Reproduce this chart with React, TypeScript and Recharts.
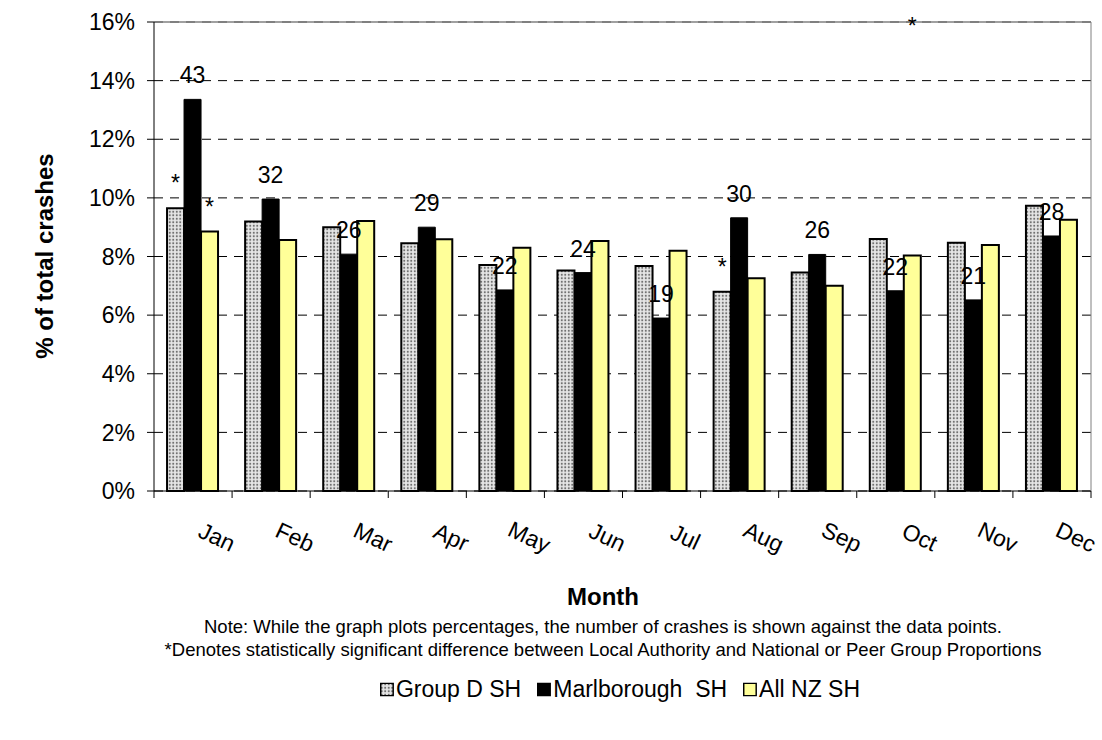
import React from "react";
import {
  BarChart,
  Bar,
  XAxis,
  YAxis,
  CartesianGrid,
  ReferenceLine,
  LabelList,
} from "recharts";

const months = ["Jan", "Feb", "Mar", "Apr", "May", "Jun", "Jul", "Aug", "Sep", "Oct", "Nov", "Dec"];
const groupD = [9.65, 9.19, 9.0, 8.45, 7.71, 7.52, 7.68, 6.8, 7.45, 8.6, 8.47, 9.73];
const marlborough = [13.36, 9.96, 8.08, 9.0, 6.86, 7.45, 5.9, 9.32, 8.07, 6.83, 6.52, 8.7];
const allNz = [8.85, 8.56, 9.21, 8.59, 8.3, 8.53, 8.2, 7.26, 7.0, 8.03, 8.39, 9.25];
const crashCounts = [43, 32, 26, 29, 22, 24, 19, 30, 26, 22, 21, 28];
// "*" markers: "bar" sits above the bar, "top" sits on the top edge of the plot
const groupDStars = ["bar", "", "", "", "", "", "", "bar", "", "", "", ""];
const allNzStars = ["bar", "", "", "", "", "", "", "", "", "top", "", ""];
const yTicks = [0, 2, 4, 6, 8, 10, 12, 14, 16];

const data = months.map((m, i) => ({
  month: m,
  groupD: groupD[i],
  marlborough: marlborough[i],
  allNz: allNz[i],
  count: crashCounts[i],
}));

const W = 1102;
const H = 740;
const TOP = 22;
const YAXIS_W = 154;
const RIGHT_W = 11;
const XAXIS_H = 249;
const BAND = (W - YAXIS_W - RIGHT_W) / months.length;
const FONT = "'Liberation Sans', Arial, sans-serif";
const FS = 23;

const MonthTick = (props: any) => {
  const { x, y, payload, index } = props;
  const half = BAND / 2;
  return (
    <g>
      <line x1={x - half} x2={x - half} y1={y} y2={y + 7} stroke="#000" />
      {index === months.length - 1 && (
        <line x1={x + half} x2={x + half} y1={y} y2={y + 7} stroke="#000" />
      )}
      <text
        transform={`translate(${x + 24},${y + 46}) rotate(25)`}
        textAnchor="middle"
        dominantBaseline="central"
        fontSize={FS}
        fontFamily={FONT}
        fill="#000"
      >
        {payload.value}
      </text>
    </g>
  );
};

const starLabel = (stars: string[]) => (props: any) => {
  const { x, y, width, index } = props;
  const kind = stars[index];
  if (!kind) return null;
  const ty = kind === "top" ? TOP + 12 : y - 17;
  return (
    <text x={x + width / 2} y={ty} textAnchor="middle" fontSize={FS} fontFamily={FONT} fill="#000">
      *
    </text>
  );
};

const countLabel = (props: any) => {
  const { x, y, width, index } = props;
  return (
    <text x={x + width / 2} y={y - 16} textAnchor="middle" fontSize={FS} fontFamily={FONT} fill="#000">
      {crashCounts[index]}
    </text>
  );
};

const Swatch = ({ fill }: { fill: string }) => (
  <svg width={14} height={14} style={{ marginRight: 2 }}>
    <rect x={0.75} y={0.75} width={12.5} height={12.5} fill={fill} stroke="#000" strokeWidth={1.5} />
  </svg>
);

export default function App() {
  return (
    <div style={{ position: "absolute", left: 0, top: 0, width: W, height: H, background: "#fff", fontFamily: FONT }}>
      <svg width={0} height={0} style={{ position: "absolute" }}>
        <defs>
          <pattern id="dots" width={3.5} height={3.5} patternUnits="userSpaceOnUse">
            <rect width={3.5} height={3.5} fill="#e6e6e6" />
            <circle cx={1.75} cy={1.75} r={1.05} fill="#6e6e6e" />
          </pattern>
        </defs>
      </svg>
      <BarChart
        width={W}
        height={H}
        data={data}
        margin={{ top: TOP, right: 0, left: 0, bottom: 0 }}
        barCategoryGap="16.7%"
        barGap={0}
      >
        <CartesianGrid vertical={false} stroke="#000" strokeDasharray="9 7" />
        <XAxis
          dataKey="month"
          height={XAXIS_H}
          stroke="#000"
          tickLine={false}
          tickSize={0}
          tickMargin={0}
          tick={<MonthTick />}
          interval={0}
        />
        <YAxis
          width={YAXIS_W}
          domain={[0, 16]}
          ticks={yTicks}
          tickFormatter={(v: number) => `${v}%`}
          stroke="#000"
          tickSize={7}
          tickMargin={12}
          tick={{ fontSize: FS, fontFamily: FONT, fill: "#000" }}
        />
        <YAxis yAxisId="r" orientation="right" width={RIGHT_W} domain={[0, 16]} tick={false} stroke="#808080" />
        <ReferenceLine y={16} stroke="#808080" strokeWidth={1.5} />
        <Bar dataKey="groupD" fill="url(#dots)" stroke="#000" strokeWidth={2} isAnimationActive={false}>
          <LabelList dataKey="groupD" content={starLabel(groupDStars)} />
        </Bar>
        <Bar dataKey="marlborough" fill="#000" stroke="#000" strokeWidth={1} isAnimationActive={false}>
          <LabelList dataKey="count" content={countLabel} />
        </Bar>
        <Bar dataKey="allNz" fill="#ffff99" stroke="#000" strokeWidth={2} isAnimationActive={false}>
          <LabelList dataKey="allNz" content={starLabel(allNzStars)} />
        </Bar>
      </BarChart>

      <div
        style={{
          position: "absolute",
          left: 45,
          top: 256,
          transform: "translate(-50%, -50%) rotate(-90deg)",
          fontWeight: "bold",
          fontSize: 24,
          whiteSpace: "nowrap",
        }}
      >
        % of total crashes
      </div>
      <div
        style={{
          position: "absolute",
          left: 603,
          top: 597,
          transform: "translate(-50%, -50%)",
          fontWeight: "bold",
          fontSize: 24,
          whiteSpace: "nowrap",
        }}
      >
        Month
      </div>
      <div
        style={{
          position: "absolute",
          left: 603,
          top: 638,
          transform: "translate(-50%, -50%)",
          fontSize: 18.5,
          lineHeight: "23px",
          textAlign: "center",
          whiteSpace: "nowrap",
        }}
      >
        <div>Note: While the graph plots percentages, the number of crashes is shown against the data points.</div>
        <div>*Denotes statistically significant difference between Local Authority and National or Peer Group Proportions</div>
      </div>
      <div
        style={{
          position: "absolute",
          left: 620,
          top: 689,
          transform: "translate(-50%, -50%)",
          fontSize: 23,
          whiteSpace: "pre",
          display: "flex",
          alignItems: "center",
        }}
      >
        <Swatch fill="url(#dots)" />
        <span style={{ marginRight: 16 }}>Group D SH</span>
        <Swatch fill="#000" />
        <span style={{ marginRight: 16 }}>Marlborough  SH</span>
        <Swatch fill="#ffff99" />
        <span>All NZ SH</span>
      </div>
    </div>
  );
}
